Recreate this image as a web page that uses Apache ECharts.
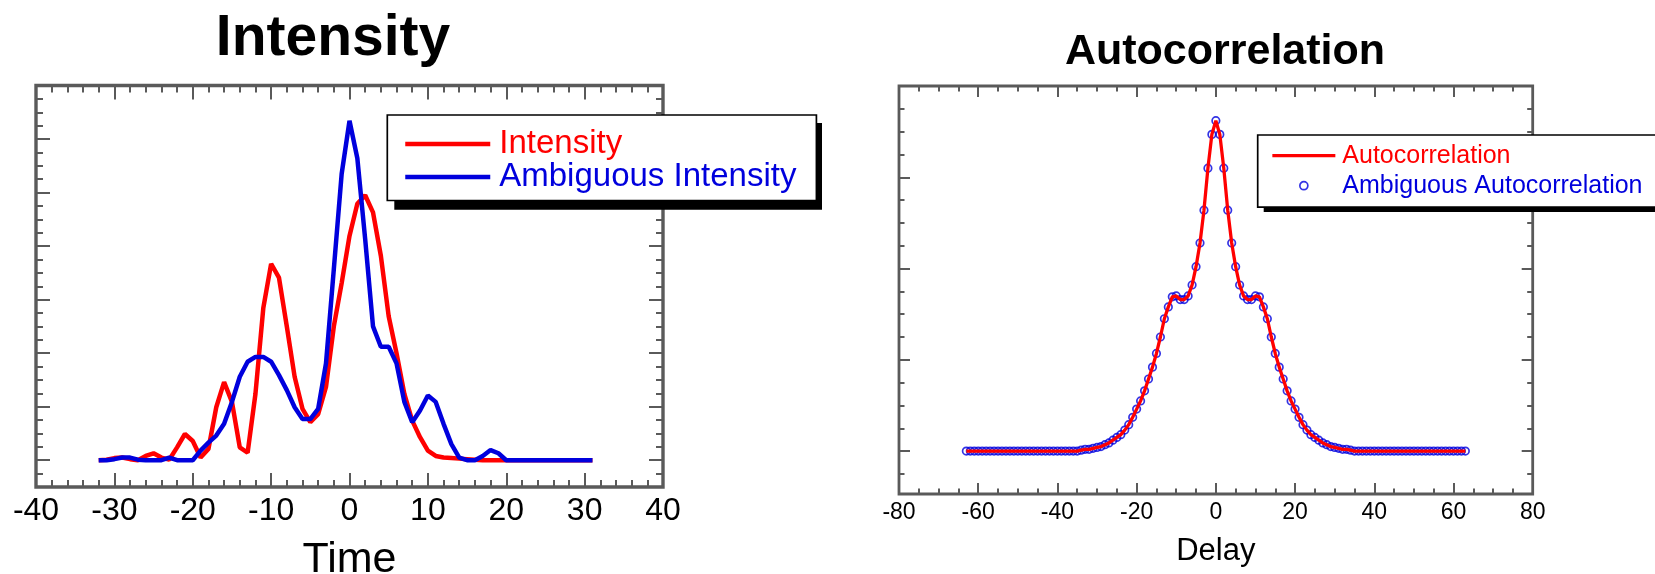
<!DOCTYPE html>
<html>
<head>
<meta charset="utf-8">
<script src="https://cdn.jsdelivr.net/npm/echarts/dist/echarts.min.js"></script>
<style>
  html, body { margin: 0; padding: 0; background: #fff; }
  #chart { width: 1655px; height: 574px; }
</style>
</head>
<body>
<div id="chart"></div>
<script>
// left panel: intensity vs time
var timeSteps = [-32, -31, -30, -29, -28, -27, -26, -25, -24, -23, -22, -21, -20, -19, -18, -17,
  -16, -15, -14, -13, -12, -11, -10, -9, -8, -7, -6, -5, -4, -3, -2, -1,
  0, 1, 2, 3, 4, 5, 6, 7, 8, 9, 10, 11, 12, 13, 14, 15,
  16, 17, 18, 19, 20, 21, 22, 23, 24, 25, 26, 27, 28, 29, 30, 31];

var intensity = [0, 0.01, 0.04, 0.05, 0.02, 0, 0.08, 0.13, 0.05, 0.01, 0.24, 0.49, 0.36, 0.05, 0.21, 0.99,
  1.46, 1.09, 0.24, 0.14, 1.24, 2.84, 3.67, 3.41, 2.5, 1.56, 0.96, 0.71, 0.86, 1.37, 2.5, 3.31,
  4.19, 4.79, 4.95, 4.63, 3.82, 2.69, 2.0, 1.24, 0.74, 0.43, 0.18, 0.08, 0.05, 0.04, 0.03, 0.02,
  0.01, 0, 0, 0, 0, 0, 0, 0, 0, 0, 0, 0, 0, 0, 0, 0];

var ambiguousIntensity = [0, 0, 0.02, 0.05, 0.05, 0.01, 0, 0, 0, 0.05, 0, 0, 0, 0.18, 0.33, 0.46,
  0.68, 1.09, 1.56, 1.84, 1.93, 1.93, 1.84, 1.59, 1.31, 0.99, 0.77, 0.77, 0.96, 1.81, 3.57, 5.35,
  6.34, 5.64, 4.13, 2.5, 2.12, 2.12, 1.81, 1.09, 0.71, 0.93, 1.21, 1.09, 0.68, 0.3, 0.05, 0,
  0, 0.08, 0.19, 0.13, 0, 0, 0, 0, 0, 0, 0, 0, 0, 0, 0, 0];

// right panel: autocorrelation vs delay
var delaySteps = [-63, -62, -61, -60, -59, -58, -57, -56, -55, -54, -53, -52, -51, -50, -49, -48,
  -47, -46, -45, -44, -43, -42, -41, -40, -39, -38, -37, -36, -35, -34, -33, -32,
  -31, -30, -29, -28, -27, -26, -25, -24, -23, -22, -21, -20, -19, -18, -17, -16,
  -15, -14, -13, -12, -11, -10, -9, -8, -7, -6, -5, -4, -3, -2, -1, 0,
  1, 2, 3, 4, 5, 6, 7, 8, 9, 10, 11, 12, 13, 14, 15, 16,
  17, 18, 19, 20, 21, 22, 23, 24, 25, 26, 27, 28, 29, 30, 31, 32,
  33, 34, 35, 36, 37, 38, 39, 40, 41, 42, 43, 44, 45, 46, 47, 48,
  49, 50, 51, 52, 53, 54, 55, 56, 57, 58, 59, 60, 61, 62, 63];

var autocorrelation = [0, 0, 0, 0, 0, 0, 0, 0, 0, 0, 0, 0, 0, 0, 0, 0,
  0, 0, 0, 0, 0, 0, 0, 0, 0, 0, 0, 0, 0, 0.01, 0.02, 0.02,
  0.03, 0.04, 0.05, 0.07, 0.09, 0.12, 0.15, 0.18, 0.23, 0.29, 0.37, 0.46, 0.55, 0.66, 0.79, 0.92,
  1.07, 1.25, 1.45, 1.58, 1.69, 1.70, 1.66, 1.66, 1.70, 1.82, 2.02, 2.28, 2.64, 3.10, 3.47, 3.62,
  3.47, 3.10, 2.64, 2.28, 2.02, 1.82, 1.70, 1.66, 1.66, 1.70, 1.69, 1.58, 1.45, 1.25, 1.07, 0.92,
  0.79, 0.66, 0.55, 0.46, 0.37, 0.29, 0.23, 0.18, 0.15, 0.12, 0.09, 0.07, 0.05, 0.04, 0.03, 0.02,
  0.02, 0.01, 0, 0, 0, 0, 0, 0, 0, 0, 0, 0, 0, 0, 0, 0,
  0, 0, 0, 0, 0, 0, 0, 0, 0, 0, 0, 0, 0, 0, 0];

var ambiguousAutocorrelation = [0, 0, 0, 0, 0, 0, 0, 0, 0, 0, 0, 0, 0, 0, 0, 0,
  0, 0, 0, 0, 0, 0, 0, 0, 0, 0, 0, 0, 0, 0.01, 0.02, 0.02,
  0.03, 0.04, 0.05, 0.07, 0.09, 0.12, 0.15, 0.18, 0.23, 0.29, 0.37, 0.46, 0.55, 0.66, 0.79, 0.92,
  1.07, 1.25, 1.45, 1.58, 1.69, 1.70, 1.66, 1.66, 1.70, 1.82, 2.02, 2.28, 2.64, 3.10, 3.47, 3.62,
  3.47, 3.10, 2.64, 2.28, 2.02, 1.82, 1.70, 1.66, 1.66, 1.70, 1.69, 1.58, 1.45, 1.25, 1.07, 0.92,
  0.79, 0.66, 0.55, 0.46, 0.37, 0.29, 0.23, 0.18, 0.15, 0.12, 0.09, 0.07, 0.05, 0.04, 0.03, 0.02,
  0.02, 0.01, 0, 0, 0, 0, 0, 0, 0, 0, 0, 0, 0, 0, 0, 0,
  0, 0, 0, 0, 0, 0, 0, 0, 0, 0, 0, 0, 0, 0, 0];

var FONT = 'Liberation Sans, Arial, sans-serif';
var FRAME = '#5a5a5a';
var RED = '#ff0000';
var BLUE = '#0000dd';

function pairs(xs, ys) {
  return xs.map(function (x, i) { return [x, ys[i]]; });
}

// one axis with inward major + minor ticks, labels optional
function tickAxis(gridIndex, position, range, opts) {
  var axis = {
    type: 'value',
    gridIndex: gridIndex,
    position: position,
    min: range[0],
    max: range[1],
    axisLine: { show: false, onZero: false },
    splitLine: { show: false },
    axisTick: { show: true, inside: true, length: opts.major, lineStyle: { color: FRAME, width: 2 } },
    minorTick: { show: true, splitNumber: opts.minorSplit, length: opts.minor, lineStyle: { color: FRAME, width: 2 } },
    minorSplitLine: { show: false },
    axisLabel: { show: false }
  };
  if (opts.interval) axis.interval = opts.interval;
  if (opts.splitNumber) axis.splitNumber = opts.splitNumber;
  if (opts.label) {
    axis.axisLabel = { show: true, color: '#000', fontFamily: FONT, fontSize: opts.label.size, margin: opts.label.margin };
  }
  if (opts.name) {
    axis.name = opts.name.text;
    axis.nameLocation = 'middle';
    axis.nameGap = opts.name.gap;
    axis.nameTextStyle = { color: '#000', fontFamily: FONT, fontSize: opts.name.size };
  }
  return axis;
}

var leftX = { major: 14, minor: 7, minorSplit: 5, interval: 10 };
var leftY = { major: 14, minor: 7, minorSplit: 4, splitNumber: 7 };
var rightX = { major: 11, minor: 5.5, minorSplit: 4, interval: 20 };
var rightY = { major: 11, minor: 5.5, minorSplit: 4, splitNumber: 4 };

var myChart = echarts.init(document.getElementById('chart'));

var option = {
  animation: false,
  backgroundColor: '#fff',
  title: [
    {
      text: 'Intensity', left: 328, top: 6, textAlign: 'center',
      textStyle: { fontFamily: FONT, fontSize: 57, fontWeight: 'bold', color: '#000' }
    },
    {
      text: 'Autocorrelation', left: 1220, top: 26, textAlign: 'center',
      textStyle: { fontFamily: FONT, fontSize: 43, fontWeight: 'bold', color: '#000' }
    }
  ],
  grid: [
    { left: 36, right: 992, top: 85.5, bottom: 87, show: true, borderColor: FRAME, borderWidth: 3.4, backgroundColor: '#fff', outerBoundsMode: 'none' },
    { left: 899, right: 122.3, top: 86, bottom: 80, show: true, borderColor: FRAME, borderWidth: 2.8, backgroundColor: '#fff', outerBoundsMode: 'none' }
  ],
  xAxis: [
    tickAxis(0, 'bottom', [-40, 40], Object.assign({
      label: { size: 32, margin: 8 },
      name: { text: 'Time', gap: 52, size: 43 }
    }, leftX)),
    tickAxis(0, 'top', [-40, 40], leftX),
    tickAxis(1, 'bottom', [-80, 80], Object.assign({
      label: { size: 23, margin: 7 },
      name: { text: 'Delay', gap: 42, size: 31 }
    }, rightX)),
    tickAxis(1, 'top', [-80, 80], rightX)
  ],
  yAxis: [
    tickAxis(0, 'left', [-0.5, 7], leftY),
    tickAxis(0, 'right', [-0.5, 7], leftY),
    tickAxis(1, 'left', [-0.47, 4], rightY),
    tickAxis(1, 'right', [-0.47, 4], rightY)
  ],
  // hard drop shadows behind the two legend boxes
  graphic: [
    { type: 'rect', z: 3, shape: { x: 394.3, y: 123, width: 427.7, height: 86.7 }, style: { fill: '#000' } },
    { type: 'rect', z: 3, shape: { x: 1263.7, y: 141, width: 500, height: 71 }, style: { fill: '#000' } }
  ],
  legend: [
    {
      orient: 'vertical',
      left: 387.3,
      top: 115,
      padding: [12.5, 20, 7, 15.7],
      itemWidth: 85,
      itemHeight: 14,
      itemGap: 0,
      backgroundColor: '#fff',
      borderColor: '#000',
      borderWidth: 1.7,
      lineStyle: { width: 4.5 },
      itemStyle: { opacity: 0 },
      selectedMode: false,
      textStyle: { fontFamily: FONT, fontSize: 33, lineHeight: 31, padding: [0, 0, 0, 4] },
      data: [
        { name: 'Intensity', textStyle: { color: RED } },
        { name: 'Ambiguous Intensity', textStyle: { color: BLUE } }
      ]
    },
    {
      orient: 'vertical',
      left: 1257.7,
      top: 135,
      padding: [5.7, 20, 6.5, 13],
      itemWidth: 63,
      itemHeight: 8,
      itemGap: 0,
      backgroundColor: '#fff',
      borderColor: '#000',
      borderWidth: 1.7,
      lineStyle: { width: 3.3 },
      selectedMode: false,
      textStyle: { fontFamily: FONT, fontSize: 25, lineHeight: 30, padding: [0, 0, 0, 2] },
      data: [
        { name: 'Autocorrelation', textStyle: { color: RED }, itemStyle: { opacity: 0 } },
        { name: 'Ambiguous Autocorrelation', textStyle: { color: BLUE }, itemStyle: { borderWidth: 1.7 } }
      ]
    }
  ],
  series: [
    {
      name: 'Intensity', type: 'line', xAxisIndex: 0, yAxisIndex: 0,
      symbol: 'none', color: RED,
      lineStyle: { color: RED, width: 4.5 },
      data: pairs(timeSteps, intensity)
    },
    {
      name: 'Ambiguous Intensity', type: 'line', xAxisIndex: 0, yAxisIndex: 0,
      symbol: 'none', color: BLUE,
      lineStyle: { color: BLUE, width: 4.5 },
      data: pairs(timeSteps, ambiguousIntensity)
    },
    {
      name: 'Autocorrelation', type: 'line', xAxisIndex: 2, yAxisIndex: 2,
      symbol: 'none', color: RED,
      lineStyle: { color: RED, width: 3.3 },
      data: pairs(delaySteps, autocorrelation)
    },
    {
      name: 'Ambiguous Autocorrelation', type: 'scatter', xAxisIndex: 2, yAxisIndex: 2,
      symbol: 'circle', symbolSize: 7.5,
      itemStyle: { color: 'rgba(0,0,0,0)', borderColor: BLUE, borderWidth: 1.7 },
      data: pairs(delaySteps, ambiguousAutocorrelation)
    }
  ]
};

myChart.setOption(option);
</script>
</body>
</html>
